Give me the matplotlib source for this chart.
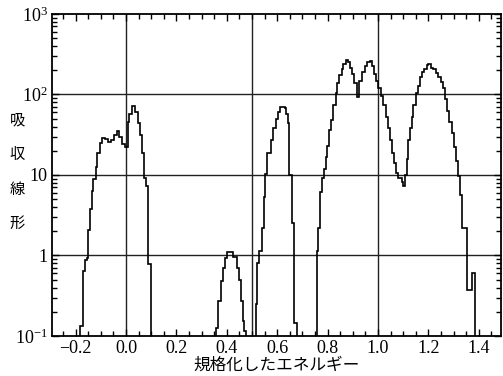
import matplotlib.pyplot as plt
from matplotlib.ticker import FixedLocator, MultipleLocator, LogLocator, NullFormatter

plt.rcParams['font.family'] = ['Liberation Serif', 'Noto Sans CJK JP']
plt.rcParams['mathtext.fontset'] = 'custom'
plt.rcParams['mathtext.rm'] = 'Liberation Serif'
plt.rcParams['mathtext.it'] = 'Liberation Serif:italic'
plt.rcParams['mathtext.bf'] = 'Liberation Serif:bold'

# 規格化したエネルギー（段の境界）と吸収線形の値
peak1_edges = [-0.1825, -0.1706, -0.1627, -0.1536, -0.1496, -0.1429, -0.1361, -0.1298,
               -0.1202, -0.1139, -0.1032, -0.0964, -0.0833, -0.0714, -0.0595, -0.0476,
               -0.0369, -0.0278, -0.0171, -0.0040, 0.0067, 0.0119, 0.0226, 0.0357,
               0.0464, 0.0556, 0.0647, 0.0726, 0.0794, 0.0861, 0.0972]
peak1_vals = [0.135, 0.65, 0.87, 0.94, 2.05, 3.8, 6.4, 9.0, 12.4, 19, 25, 29, 28, 26,
              27.5, 31, 34.7, 30, 24, 22, 45, 58, 71, 60, 44, 31, 19, 9.3, 7.4, 0.78]

peak2_edges = [0.359, 0.366, 0.375, 0.383, 0.392, 0.402, 0.409, 0.426, 0.439, 0.448,
               0.455, 0.463, 0.470, 0.478]
peak2_vals = [0.124, 0.27, 0.48, 0.70, 0.94, 1.09, 1.12, 0.97, 0.69, 0.49, 0.27, 0.155, 0.117]

peak3_edges = [0.5147, 0.5210, 0.5290, 0.5377, 0.5456, 0.5528, 0.5595, 0.5734, 0.5833,
               0.5933, 0.6032, 0.6123, 0.6290, 0.6361, 0.6421, 0.6468, 0.6599, 0.6679,
               0.6766]
peak3_vals = [0.25, 0.8, 1.15, 2.2, 5.3, 10.4, 19, 27, 38, 49, 60, 69, 67, 56.5, 44,
              9.9, 2.5, 0.147]

peak4_edges = [0.7567, 0.7631, 0.7710, 0.7790, 0.7857, 0.7925, 0.7976, 0.8056, 0.8123,
               0.8226, 0.8321, 0.8385, 0.8464, 0.8560, 0.8623, 0.8718, 0.8821, 0.8889,
               0.8956, 0.9048, 0.9155, 0.9258, 0.9377, 0.9484, 0.9552, 0.9683, 0.9750,
               0.9853, 0.9921, 1.0012, 1.0119, 1.0210, 1.0306, 1.0409, 1.0476, 1.0567,
               1.0647, 1.0714, 1.0782, 1.0940, 1.1004, 1.1071, 1.1139, 1.1202, 1.1270,
               1.1337, 1.1401, 1.1496, 1.1575, 1.1667, 1.1734, 1.1837, 1.1933, 1.1996,
               1.2103, 1.2194, 1.2290, 1.2393, 1.2488, 1.2591, 1.2659, 1.2750, 1.2829,
               1.2925, 1.3016, 1.3095, 1.3187, 1.3254, 1.3345, 1.3520, 1.3718, 1.3849]
peak4_vals = [1.15, 2.2, 6.1, 9.1, 12, 16.5, 22.6, 36, 48, 73, 103, 137, 177, 210, 242,
              272, 250, 216, 182, 137, 92, 149, 188, 229, 250, 264, 229, 182, 149, 119,
              97, 73, 52, 38, 27, 19, 13.9, 10.7, 9.3, 8.1, 7.2, 9.9, 16, 27, 38, 52, 73,
              103, 129, 163, 188, 210, 230, 236, 216, 205, 183, 163, 141, 122, 89, 63,
              45, 33, 22, 15, 9.8, 5.6, 2.2, 0.37, 0.61]

x_ticks = [-0.2, 0.0, 0.2, 0.4, 0.6, 0.8, 1.0, 1.2, 1.4]
x_labels = ['\u22120.2', '0.0', '0.2', '0.4', '0.6', '0.8', '1.0', '1.2', '1.4']
y_ticks = [0.1, 1, 10, 100, 1000]
y_labels = ['10$^{-1}$', '1', '10', '10$^{2}$', '10$^{3}$']

fig = plt.figure(figsize=(5.03, 3.76), dpi=100)
ax = fig.add_axes([0.1034, 0.1064, 0.8926, 0.8564])
ax.set_yscale('log')
ax.set_xlim(-0.2937, 1.488)
ax.set_ylim(0.1, 1000)

# 目安の線
for xv in [0.0, 0.5, 1.0]:
    ax.axvline(xv, color='#222222', lw=1.0, zorder=1)
for yv in [1, 10, 100]:
    ax.axhline(yv, color='#222222', lw=1.0, zorder=1)

for edges, vals in [(peak1_edges, peak1_vals), (peak2_edges, peak2_vals),
                    (peak3_edges, peak3_vals), (peak4_edges, peak4_vals)]:
    ax.stairs(vals, edges, baseline=0.05, color='black', lw=1.2, zorder=2)

ax.xaxis.set_major_locator(FixedLocator(x_ticks))
ax.set_xticklabels(x_labels, fontsize=13, family='Liberation Serif')
ax.xaxis.set_minor_locator(MultipleLocator(0.05))
ax.yaxis.set_major_locator(FixedLocator(y_ticks))
ax.set_yticklabels(y_labels, fontsize=13, family='Liberation Serif')
ax.yaxis.set_minor_locator(LogLocator(base=10, subs=range(2, 10)))
ax.yaxis.set_minor_formatter(NullFormatter())
ax.tick_params(which='both', direction='in', top=True, right=True, width=1.0)
ax.tick_params(which='major', length=5, pad=3)
ax.tick_params(which='minor', length=3.5)
for s in ax.spines.values():
    s.set_linewidth(1.3)

ax.set_xlabel('規格化したエネルギー', fontsize=12, family=['Noto Sans CJK JP'], labelpad=0)

# 縦書きの軸ラベル
for i, ch in enumerate('吸収線形'):
    fig.text(0.034, 1 - (120 + 34.5 * i) / 376, ch, fontsize=11,
             family=['Noto Sans CJK JP'], ha='center', va='center')

plt.savefig('out.png', dpi=100)
plt.close()
